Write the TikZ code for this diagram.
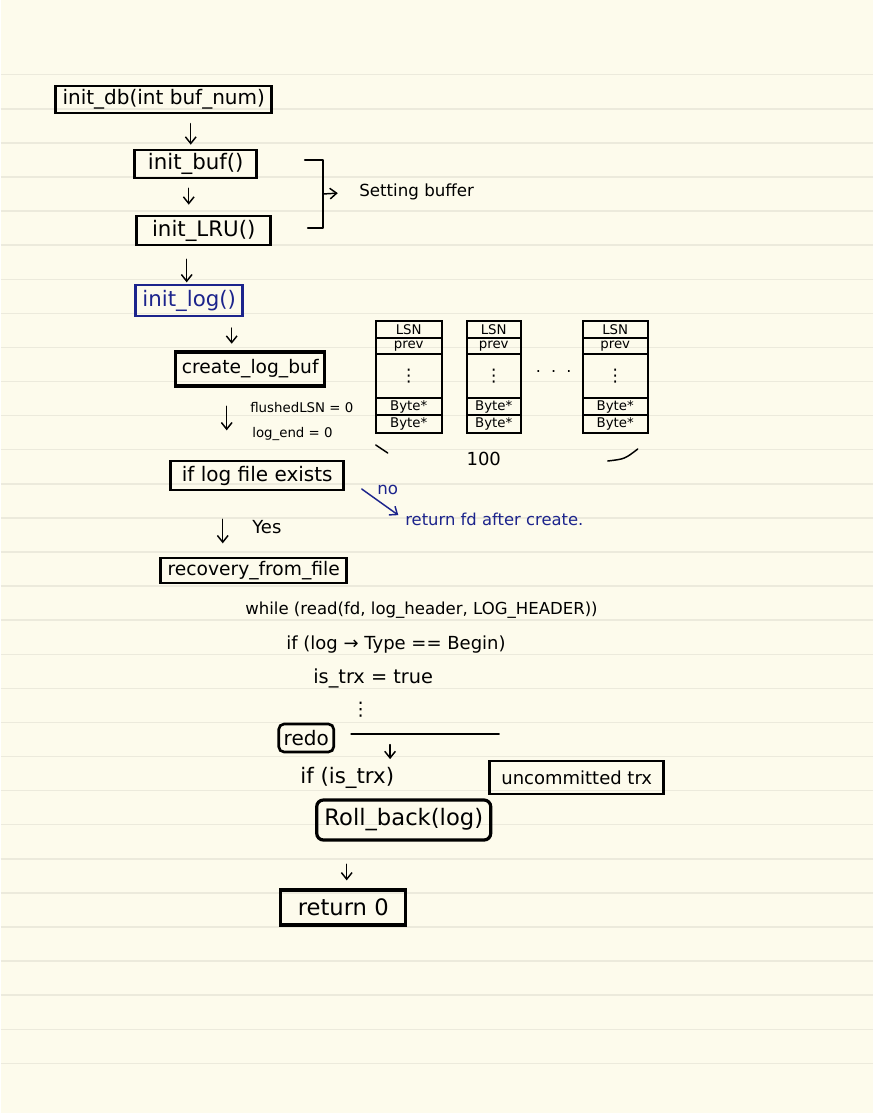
\documentclass[tikz,border=0pt]{standalone}
\usepackage{fontspec}
\setmainfont{DejaVu Sans}
\usetikzlibrary{arrows.meta,positioning,calc}
\definecolor{paper}{RGB}{253,251,236}
\definecolor{ruling}{RGB}{236,234,220}
\definecolor{bluepen}{RGB}{28,36,140}

\begin{document}
\begin{tikzpicture}[x=0.75pt, y=-0.75pt,
            fsize/.style={font=\fontsize{#1}{#1}\selectfont},
            pen/.style={line width=1.1pt, line cap=round, line join=round},
            flow/.style={pen, -{Straight Barb[length=5pt,width=8pt]}, shorten <=6pt, shorten >=3pt},
            box/.style={draw, line width=2pt, inner sep=0pt, fsize=15},
            cell/.style={draw, line width=1.3pt, inner sep=0pt, outer sep=0pt, fsize=10},
            txt/.style={inner sep=1pt, anchor=west}]
        \fill[paper] (0,0) rectangle (872,1113);
        \foreach \k in {0,...,29}
            \draw[ruling, line width=1.1pt] (0,{74.7+34.09*\k}) -- (872,{74.7+34.09*\k});
        \useasboundingbox (0,0) rectangle (872,1113);

        \node[box, minimum width=162pt, minimum height=20.25pt] (db) at (163,99.5) {init\_db(int buf\_num)};
        \node[box, minimum width=91.5pt, minimum height=21pt, fsize=16] (ibuf) at (195,164) {init\_buf()};
        \node[box, minimum width=100.5pt, minimum height=21.75pt, fsize=16] (lru) at (203,230.5) {init\_LRU()};
        \node[box, draw=bluepen, text=bluepen, minimum width=80.25pt, minimum height=23.25pt, fsize=16] (ilog) at (188.5,300.5) {init\_log()};
        \node[box, line width=2.4pt, minimum width=111.75pt, minimum height=25.5pt, fsize=14] (clb) at (249.5,369) {create\_log\_buf};
        \node[box, minimum width=129.75pt, minimum height=21.75pt] (exists) at (256.5,475.5) {if log file exists};
        \node[box, minimum width=139.5pt, minimum height=18.75pt, fsize=14] (rec) at (253,570.5) {recovery\_from\_file};
        \node[box, rounded corners=4pt, minimum width=41.25pt, minimum height=21pt] (redo) at (305.5,738) {redo};
        \node[box, minimum width=130.5pt, minimum height=24.75pt, fsize=13.5] (unc) at (576,777.5) {uncommitted trx};
        \node[box, line width=2.4pt, rounded corners=5pt, minimum width=130.5pt, minimum height=30pt, fsize=17] (rb) at (403,820) {Roll\_back(log)};
        \node[box, line width=2.4pt, minimum width=93.75pt, minimum height=26.25pt, fsize=17] (ret0) at (342.5,907.5) {return 0};

        \node[txt, fsize=12.5] (setbuf) at (357,192) {Setting buffer};
        \node[txt, fsize=10] (flsn) at (248,408) {flushedLSN = 0};
        \node[txt, fsize=10] (lend) at (250,434) {log\_end = 0};
        \node[txt, fsize=12.5, text=bluepen] (no) at (375,490) {no};
        \node[txt, fsize=12.3, text=bluepen] (ret) at (403,519) {return fd after create.};
        \node[txt, fsize=13.5] (yes) at (250,527) {Yes};
        \node[txt, fsize=12.4] (wh) at (243,610) {while (read(fd, log\_header, LOG\_HEADER))};
        \node[txt, fsize=13.5] (iftype) at (284,645) {if (log → Type == Begin)};
        \node[txt, fsize=14.5] (istrx) at (311,678) {is\_trx = true};
        \node[fsize=14] (vd) at (360,710) {⋮};
        \node[txt, fsize=16] (iftrx) at (298,778) {if (is\_trx)};

        \foreach \n/\x/\w in {bA/375/49.5pt, bB/466/40.5pt, bC/582/48.75pt}{
            \node[cell, minimum width=\w, minimum height=12.75pt, anchor=north west] (\n1) at (\x,321) {LSN};
            \node[cell, minimum width=\w, minimum height=12pt, below=0pt of \n1] (\n2) {prev};
            \node[cell, minimum width=\w, minimum height=33pt, below=0pt of \n2, fsize=13] (\n3) {⋮};
            \node[cell, minimum width=\w, minimum height=12.75pt, below=0pt of \n3] (\n4) {Byte*};
            \node[cell, minimum width=\w, minimum height=13.5pt, below=0pt of \n4] (\n5) {Byte*};
        }
        \node[fsize=12] (gap) at (553,372) {.\ \ .\ \ .};
        \node[fsize=13.5] (hundred) at (483,459) {100};
        \draw[pen] (375,445) -- (387,453);
        \draw[pen] (607,461) .. controls (624,459) .. (637,449);

        \draw[flow, shorten <=7pt] ([xshift=-3.75pt]ibuf.north |- db.south) -- ([xshift=-3.75pt]ibuf.north);
        \draw[flow, shorten <=6.75pt, shorten >=7.5pt] ([xshift=-5.25pt]ibuf.south) -- ([xshift=-5.25pt]ibuf.south |- lru.north);
        \draw[flow, shorten <=9.75pt, shorten >=1pt] ([xshift=-1.9pt]ilog.north |- lru.south) -- ([xshift=-1.9pt]ilog.north);
        \draw[flow, shorten <=8pt, shorten >=5pt] ([xshift=-13.9pt]clb.north |- ilog.south) -- ([xshift=-13.9pt]clb.north);
        \draw[flow, shorten <=14pt, shorten >=22pt] ([xshift=-22.9pt]exists.north |- clb.south) -- ([xshift=-22.9pt]exists.north);
        \draw[flow, shorten <=21pt, shorten >=10pt] ([xshift=-23.25pt]rec.north |- exists.south) -- ([xshift=-23.25pt]rec.north);
        \draw[flow, shorten <=17pt, shorten >=6pt] ([xshift=2.6pt]ret0.north |- rb.south) -- ([xshift=2.6pt]ret0.north);

        \draw[pen, line width=1.3pt] (304,160) -- (322,160) -- (322,228) -- (307,228);
        \coordinate (brk) at (322,194);
        \draw[flow, shorten <=0pt, shorten >=15pt] (brk) -- (setbuf.west);

        \coordinate (nofrom) at (361,489);
        \draw[flow, draw=bluepen, shorten <=0pt, shorten >=5pt] (nofrom) -- (ret.west);

        \draw[pen] ([xshift=12pt,yshift=3pt]redo.east) -- ++(148,0);
        \draw[flow, shorten <=5pt, shorten >=5pt] ([xshift=41.25pt]redo.east) -- ([xshift=41.25pt]redo.east |- iftrx.north);
\end{tikzpicture}
\end{document}
